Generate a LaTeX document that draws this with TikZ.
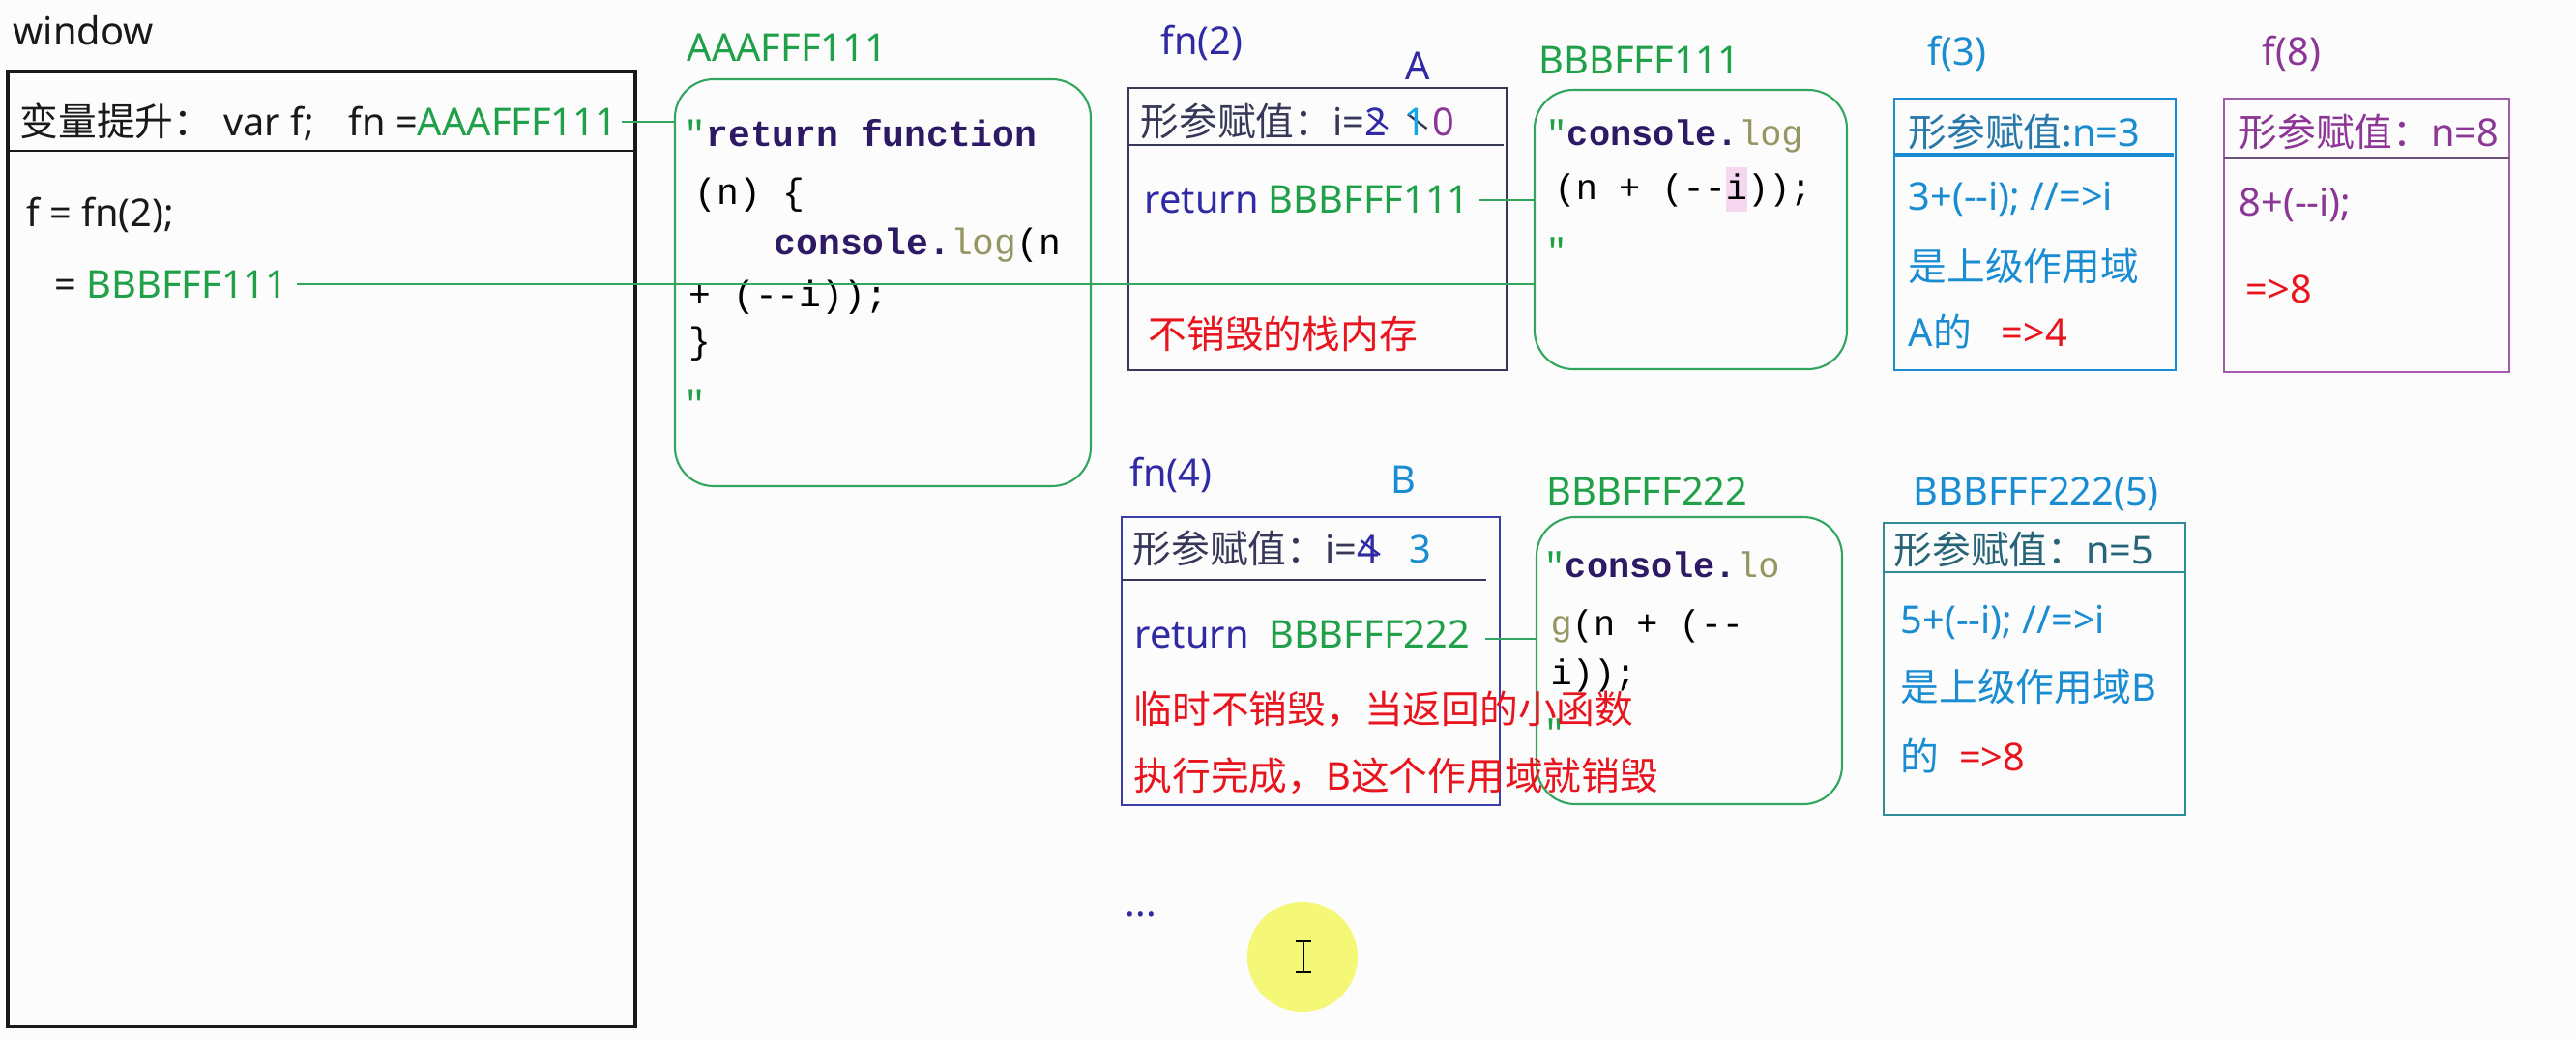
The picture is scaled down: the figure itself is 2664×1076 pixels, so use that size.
\documentclass[tikz,border=0pt]{standalone}
\usepackage{fontspec}
\usepackage{graphicx}
\setmainfont{Noto Sans}
\setmonofont{Liberation Mono}
\newfontfamily\cjk{Noto Sans CJK SC}
\usetikzlibrary{fit}
\newcommand\zh[1]{{\cjk #1}}
\newcommand\stk[2]{\makebox[0pt][l]{\hspace{0.08em}\raisebox{0.55em}{\rotatebox{-37}{\textcolor{#2}{\rule{0.62em}{0.06em}}}}}#1}
\newcommand\hlt[1]{{\setlength\fboxsep{0pt}\colorbox{pinkhl}{\rule[-0.32em]{0pt}{1.25em}#1}}}
\newcommand\fs{\fontsize{11.3pt}{13.5pt}\selectfont}
\newcommand\cfs{\fontsize{10.5pt}{12.5pt}\selectfont\ttfamily}
\newcommand\cfa{\fontsize{10.8pt}{13pt}\selectfont\ttfamily}
\definecolor{bgc}{RGB}{252,252,252}
\definecolor{blk}{RGB}{25,25,25}
\definecolor{grn}{RGB}{32,160,72}
\definecolor{gline}{RGB}{50,165,95}
\definecolor{navy}{RGB}{48,42,165}
\definecolor{slate}{RGB}{55,55,88}
\definecolor{bluebox}{RGB}{60,60,170}
\definecolor{cyb}{RGB}{25,140,210}
\definecolor{cyhd}{RGB}{40,120,170}
\definecolor{cyn}{RGB}{20,165,230}
\definecolor{purp}{RGB}{140,55,150}
\definecolor{purpb}{RGB}{165,90,175}
\definecolor{purpsep}{RGB}{110,80,120}
\definecolor{tealb}{RGB}{45,140,150}
\definecolor{tealt}{RGB}{40,100,120}
\definecolor{redc}{RGB}{232,20,30}
\definecolor{kw}{RGB}{45,25,100}
\definecolor{olv}{RGB}{150,150,100}
\definecolor{pinkhl}{RGB}{245,215,240}
\definecolor{hlyel}{RGB}{245,247,118}
\begin{document}
\begin{tikzpicture}[x=0.01cm,y=-0.01cm,
  txt/.style={inner sep=0pt, anchor=base west, font=\fs},
  codeline/.style={inner sep=0pt, anchor=base west, font=\cfs},
  codelinea/.style={inner sep=0pt, anchor=base west, font=\cfa},
  plainbox/.style={draw, inner sep=0pt, line width=0.6pt},
  roundbox/.style={draw=gline, inner sep=0pt, line width=0.6pt, rounded corners=0.4cm},
  conn/.style={draw=gline, line width=0.55pt},
  sepline/.style={line width=0.6pt}]
\fill[bgc] (0,0) rectangle (2664,1076);

% window
\node[txt, text=blk] (winlbl) at (13,47) {window};
\node[plainbox, draw=blk, line width=0.9pt, fit={(8,74) (657,1062)}] (win) {};
\draw[blk, line width=0.8pt] (8,156) -- (657,156);
\node[txt, text=blk] (hoist) at (20,140) {\zh{变量提升：}\hspace{0.3em}var f;\hspace{0.9em}fn =\textcolor{grn}{AAAFFF111}};
\node[txt, text=blk] (fcall) at (27,235) {f = fn(2);};
\node[txt, text=blk] (fres) at (56,308) {= \textcolor{grn}{BBBFFF111}};

% AAAFFF111
\node[txt, text=grn] (aaalbl) at (710,64) {AAAFFF111};
\node[roundbox, fit={(698,82) (1128,503)}] (aaa) {};
\node[codelinea] (a1) at (707,152) {\textcolor{grn}{"}\textbf{\textcolor{kw}{return function}}};
\node[codelinea] (a2) at (718,212) {(n) \{};
\node[codelinea] (a3) at (800,263) {\textbf{\textcolor{kw}{console.}}\textcolor{olv}{log}(n};
\node[codelinea] (a4) at (712,317) {+ (-{}-i));};
\node[codelinea] (a5) at (712,365) {\}};
\node[codelinea, text=grn] (a6) at (707,430) {"};

% fn(2)
\node[txt, text=navy] (fn2lbl) at (1200,57) {fn(2)};
\node[txt, text=navy] (albl) at (1453,83) {A};
\node[plainbox, draw=slate, fit={(1167,91) (1558,383)}] (fn2) {};
\draw[slate, sepline] (1167,150) -- (1555,150);
\node[txt, text=slate] (p2) at (1179,141) {\zh{形参赋值：}i=\stk{\textcolor{navy}{2}}{navy}\hspace{0.45em}\stk{\textcolor{cyn}{1}}{slate}\,\textcolor{purp}{0}};
\node[txt, text=navy] (r2) at (1183,221) {return \textcolor{grn}{BBBFFF111}};
\node[txt, text=redc] (d2) at (1187,360) {\zh{不销毁的栈内存}};

% BBBFFF111
\node[txt, text=grn] (b1lbl) at (1591,77) {BBBFFF111};
\node[roundbox, fit={(1587,93) (1910,382)}] (b1) {};
\node[codeline] (b1a) at (1598,150) {\textcolor{grn}{"}\textbf{\textcolor{kw}{console.}}\textcolor{olv}{log}};
\node[codeline] (b1b) at (1607,207) {(n + (-{}-\hlt{i}));};
\node[codeline, text=grn] (b1c) at (1598,272) {"};

% f(3)
\node[txt, text=cyb] (f3lbl) at (1993,68) {f(3)};
\node[plainbox, draw=cyb, line width=0.8pt, fit={(1959,102) (2250,383)}] (f3) {};
\draw[cyb, line width=0.9pt] (1959,160) -- (2248,160);
\node[txt, text=cyhd] (f3a) at (1973,152) {\zh{形参赋值}:\textcolor{cyb}{n=3}};
\node[txt, text=cyb] (f3b) at (1973,218) {3+(-{}-i); //=>i};
\node[txt, text=cyb] (f3c) at (1973,290) {\zh{是上级作用域}};
\node[txt, text=cyb] (f3d) at (1973,358) {A\zh{的}\ \ \ \textcolor{redc}{=>4}};

% f(8)
\node[txt, text=purp] (f8lbl) at (2339,68) {f(8)};
\node[plainbox, draw=purpb, line width=0.8pt, fit={(2300,102) (2595,385)}] (f8) {};
\draw[purpsep, sepline] (2300,163) -- (2595,163);
\node[txt, text=purp] (f8a) at (2315,152) {\zh{形参赋值：}n=8};
\node[txt, text=purp] (f8b) at (2315,223) {8+(-{}-i);};
\node[txt, text=redc] (f8c) at (2322,313) {=>8};

% fn(4)
\node[txt, text=navy] (fn4lbl) at (1168,503) {fn(4)};
\node[txt, text=cyb] (blbl) at (1438,510) {B};
\node[plainbox, draw=bluebox, fit={(1160,535) (1551,833)}] (fn4) {};
\draw[slate, sepline] (1160,600) -- (1537,600);
\node[txt, text=slate] (p4) at (1171,582) {\zh{形参赋值：}i=\stk{\textcolor{navy}{4}}{navy}\hspace{0.8em}\textcolor{cyb}{3}};
\node[txt, text=navy] (r4) at (1173,670) {return\ \ \textcolor{grn}{BBBFFF222}};

% BBBFFF222
\node[txt, text=grn] (b2lbl) at (1599,522) {BBBFFF222};
\node[roundbox, fit={(1589,535) (1905,832)}] (b2) {};
\node[codeline] (b2a) at (1596,597) {\textcolor{grn}{"}\textbf{\textcolor{kw}{console.}}\textcolor{olv}{lo}};
\node[codeline] (b2b) at (1603,657) {\textcolor{olv}{g}(n + (-{}-};
\node[codeline] (b2c) at (1603,708) {i));};
\node[codeline, text=grn] (b2d) at (1596,770) {"};

\node[txt, text=redc] (d4a) at (1172,748) {\zh{临时不销毁，当返回的小函数}};
\node[txt, text=redc] (d4b) at (1172,817) {\zh{执行完成，}B\zh{这个作用域就销毁}};

% BBBFFF222(5)
\node[txt, text=cyb] (b5lbl) at (1978,522) {BBBFFF222(5)};
\node[plainbox, draw=tealb, line width=0.8pt, fit={(1948,541) (2260,843)}] (b5) {};
\draw[tealb, line width=0.8pt] (1948,592) -- (2260,592);
\node[txt, text=tealt] (b5a) at (1958,583) {\zh{形参赋值：}n=5};
\node[txt, text=cyb] (b5b) at (1965,655) {5+(-{}-i); //=>i};
\node[txt, text=cyb] (b5c) at (1965,725) {\zh{是上级作用域}B};
\node[txt, text=cyb] (b5d) at (1965,797) {\zh{的}\ \ \textcolor{redc}{=>8}};

% connectors
\draw[conn] ([xshift=0.04cm]hoist.east) -- (hoist.east -| aaa.west);
\draw[conn] ([xshift=0.09cm]fres.east) -- (fres.east -| b1.west);
\draw[conn] ([xshift=0.1cm]r2.east) -- (r2.east -| b1.west);
\coordinate (r4e) at ([xshift=0.15cm,yshift=-1.5pt]r4.east);
\draw[conn] (r4e) -- (r4e -| b2.west);

% misc
\node[txt, text=navy] (dots) at (1163,948) {...};
\node[circle, fill=hlyel, minimum size=1.14cm, inner sep=0pt] (cur) at (1347,990) {};
\draw[black, line width=0.7pt] (1348,974) -- (1348,1006) (1340,974) -- (1356,974) (1340,1006) -- (1356,1006);
\end{tikzpicture}
\end{document}
